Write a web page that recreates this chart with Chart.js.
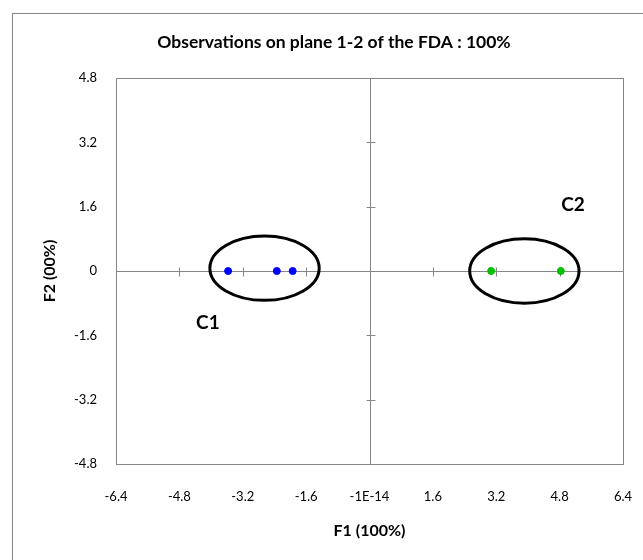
<!DOCTYPE html>
<html>
<head>
<meta charset="utf-8">
<script src="https://cdn.jsdelivr.net/npm/chart.js@4/dist/chart.umd.min.js"></script>
<style>
  html, body { margin: 0; padding: 0; background: #fff; }
  canvas { display: block; }
</style>
</head>
<body>
<canvas id="fdaChart" width="643" height="560"></canvas>
<script>
// Observations (F1, F2) per class
const c1X = [-3.57, -2.34, -1.94];
const c1Y = [0, 0, 0];
const c2X = [3.07, 4.83];
const c2Y = [0, 0];

// Tick labels as shown on the axes
const xTickLabels = ['-6.4', '-4.8', '-3.2', '-1.6', '-1E-14', '1.6', '3.2', '4.8', '6.4'];
const yTickLabels = ['-4.8', '-3.2', '-1.6', '0', '1.6', '3.2', '4.8'];

// Class ellipses and labels, in data units
const groupNames = ['C1', 'C2'];
const ellipseCX = [-2.65, 3.91];
const ellipseCY = [0.07, 0];
const ellipseRX = [1.38, 1.38];
const ellipseRY = [0.80, 0.80];
const labelX = [-4.08, 5.14];
const labelY = [-1.29, 1.64];

const FONT = 'Lato, "Open Sans", sans-serif';
const AXIS_GREY = '#868686';

document.addEventListener('DOMContentLoaded', function() {
    const toPoints = (xs, ys) => xs.map((x, i) => ({ x: x, y: ys[i] }));

    // frame, plot box, centre axes with cross ticks
    const framePlugin = {
        id: 'frame',
        afterLayout(chart) {
            // the title is centred a little right of the canvas centre in the original
            const tb = chart.titleBlock;
            if (tb) { tb.left = 0; tb.right = 668; }
        },
        beforeDraw(chart) {
            const ctx = chart.ctx;
            ctx.save();
            ctx.fillStyle = '#fff';
            ctx.fillRect(0, 0, chart.width, chart.height);
            ctx.strokeStyle = AXIS_GREY;
            ctx.lineWidth = 1;
            ctx.strokeRect(12.5, 13.5, chart.width + 10, chart.height + 10);
            ctx.restore();
        },
        beforeDatasetsDraw(chart) {
            const ctx = chart.ctx;
            const a = chart.chartArea;
            const xs = chart.scales.x, ys = chart.scales.y;
            const x0 = Math.round(xs.getPixelForValue(0)) + 0.5;
            const y0 = Math.round(ys.getPixelForValue(0)) + 0.5;
            ctx.save();
            ctx.strokeStyle = AXIS_GREY;
            ctx.lineWidth = 1;
            ctx.strokeRect(Math.round(a.left) + 0.5, Math.round(a.top) + 0.5,
                Math.round(a.right - a.left), Math.round(a.bottom - a.top));
            ctx.beginPath();
            ctx.moveTo(a.left, y0); ctx.lineTo(a.right, y0);
            ctx.moveTo(x0, a.top); ctx.lineTo(x0, a.bottom);
            xs.ticks.forEach(t => {
                const px = Math.round(xs.getPixelForValue(t.value)) + 0.5;
                if (px <= a.left + 1 || px >= a.right - 1) return;
                ctx.moveTo(px, y0 - 4); ctx.lineTo(px, y0 + 5);
            });
            ys.ticks.forEach(t => {
                const py = Math.round(ys.getPixelForValue(t.value)) + 0.5;
                if (py <= a.top + 1 || py >= a.bottom - 1) return;
                ctx.moveTo(x0 - 4, py); ctx.lineTo(x0 + 5, py);
            });
            ctx.stroke();

            // ellipses around classes
            ctx.strokeStyle = '#000';
            ctx.lineWidth = 3;
            groupNames.forEach((g, i) => {
                const cx = xs.getPixelForValue(ellipseCX[i]);
                const cy = ys.getPixelForValue(ellipseCY[i]);
                const rx = xs.getPixelForValue(ellipseCX[i] + ellipseRX[i]) - cx;
                const ry = cy - ys.getPixelForValue(ellipseCY[i] + ellipseRY[i]);
                ctx.beginPath();
                ctx.ellipse(cx, cy, rx, ry, 0, 0, Math.PI * 2);
                ctx.stroke();
            });

            ctx.fillStyle = '#000';
            ctx.font = 'bold 19px ' + FONT;
            ctx.textAlign = 'center';
            ctx.textBaseline = 'middle';
            groupNames.forEach((g, i) => {
                ctx.fillText(g, xs.getPixelForValue(labelX[i]), ys.getPixelForValue(labelY[i]));
            });
            ctx.restore();
        }
    };

    new Chart(document.getElementById('fdaChart'), {
        type: 'scatter',
        data: {
            datasets: [{
                label: 'C1',
                data: toPoints(c1X, c1Y),
                backgroundColor: '#0000ff',
                borderColor: '#0000ff',
                pointRadius: 3.5,
                pointHoverRadius: 3.5
            }, {
                label: 'C2',
                data: toPoints(c2X, c2Y),
                backgroundColor: '#00c000',
                borderColor: '#00c000',
                pointRadius: 3.5,
                pointHoverRadius: 3.5
            }]
        },
        options: {
            responsive: false,
            animation: false,
            events: [],
            layout: { padding: { left: 0, right: 20, top: 0, bottom: 0 } },
            plugins: {
                legend: { display: false },
                tooltip: { enabled: false },
                title: {
                    display: true,
                    text: 'Observations on plane 1-2 of the FDA : 100%',
                    color: '#000',
                    font: { family: FONT, size: 17.5, weight: 'bold' },
                    padding: { top: 32, bottom: 25 }
                }
            },
            scales: {
                x: {
                    type: 'linear',
                    min: -6.4,
                    max: 6.4,
                    grid: { display: false, drawTicks: false },
                    border: { display: false },
                    afterFit(scale) {
                        scale.height = 96;
                        scale.paddingLeft = 0;
                        scale.paddingRight = 0;
                    },
                    afterBuildTicks(scale) {
                        scale.ticks = xTickLabels.map((l, i) => ({ value: -6.4 + i * 1.6 }));
                    },
                    ticks: {
                        color: '#000',
                        font: { family: FONT, size: 13 },
                        padding: 25,
                        maxRotation: 0,
                        autoSkip: false,
                        callback: (v, i) => xTickLabels[i]
                    },
                    title: {
                        display: true,
                        text: 'F1 (100%)',
                        color: '#000',
                        font: { family: FONT, size: 16, weight: 'bold' },
                        padding: { top: 0, bottom: 20 }
                    }
                },
                y: {
                    type: 'linear',
                    min: -4.8,
                    max: 4.8,
                    grid: { display: false, drawTicks: false },
                    border: { display: false },
                    afterFit(scale) { scale.width = 116; },
                    afterBuildTicks(scale) {
                        scale.ticks = yTickLabels.map((l, i) => ({ value: -4.8 + i * 1.6 }));
                    },
                    ticks: {
                        color: '#000',
                        font: { family: FONT, size: 13 },
                        padding: 19,
                        autoSkip: false,
                        callback: (v, i) => yTickLabels[i]
                    },
                    title: {
                        display: true,
                        text: 'F2 (00%)',
                        color: '#000',
                        font: { family: FONT, size: 16, weight: 'bold' },
                        padding: { top: 40, bottom: 0 }
                    }
                }
            }
        },
        plugins: [framePlugin]
    });
});
</script>
</body>
</html>
